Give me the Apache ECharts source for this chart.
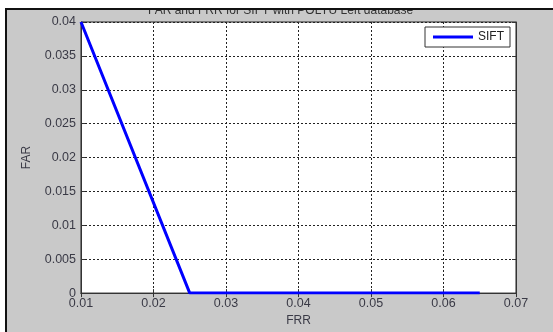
<!DOCTYPE html>
<html>
<head>
<meta charset="utf-8">
<script src="https://cdn.jsdelivr.net/npm/echarts@6/dist/echarts.min.js"></script>
<style>html,body{margin:0;padding:0;background:#fff}#c{width:553px;height:332px}</style>
</head>
<body>
<div id="c"></div>
<script>
const frr = [0.01, 0.025, 0.065];
const far = [0.04, 0, 0];
const seriesName = 'SIFT';
const titleText = 'FAR and FRR for SIFT with POLYU Left database';
const xTicks = [0.01, 0.02, 0.03, 0.04, 0.05, 0.06, 0.07];
const yTicks = [0, 0.005, 0.01, 0.015, 0.02, 0.025, 0.03, 0.035, 0.04];

const chart = echarts.init(document.getElementById('c'), null, {renderer: 'canvas'});
const labelColor = '#3a3a46';
const font = 'Liberation Sans, Arial, sans-serif';
const fmt = v => (Math.abs(v) < 1e-12 ? '0' : String(+v.toFixed(3)));
chart.setOption({
  animation: false,
  backgroundColor: '#c9c9c9',
  title: {
    text: titleText, left: 143, top: 0,
    textStyle: {fontSize: 12, fontWeight: 'normal', color: '#333', fontFamily: font}
  },
  legend: {
    right: 43, top: 27, padding: [4, 6, 4, 8],
    backgroundColor: '#fff', borderColor: '#333', borderWidth: 1,
    itemWidth: 40, itemHeight: 3, icon: 'rect',
    textStyle: {fontSize: 12, color: '#222', fontFamily: font},
    data: [seriesName]
  },
  grid: {left: 81, right: 37, top: 22, bottom: 35, show: true, backgroundColor: '#fff', borderColor: '#222', borderWidth: 1},
  xAxis: [{
    type: 'value', min: 0.01, max: 0.07, interval: 0.01,
    name: 'FRR', nameLocation: 'middle', nameGap: 21,
    nameTextStyle: {fontSize: 12, color: labelColor, fontFamily: font},
    axisLine: {show: true, lineStyle: {color: '#333'}},
    axisTick: {inside: true, length: 4, lineStyle: {color: '#333'}},
    axisLabel: {fontSize: 12.5, color: labelColor, fontFamily: font, margin: 4, formatter: fmt},
    splitLine: {show: true, lineStyle: {color: '#222', type: [2, 2], width: 1}}
  }, {
    type: 'value', position: 'top', min: 0.01, max: 0.07, interval: 0.01,
    axisLine: {show: true, lineStyle: {color: '#333'}},
    axisTick: {inside: true, length: 4, lineStyle: {color: '#333'}},
    axisLabel: {show: false}, splitLine: {show: false}
  }],
  yAxis: [{
    type: 'value', min: 0, max: 0.04, interval: 0.005,
    name: 'FAR', nameLocation: 'middle', nameGap: 48, nameRotate: 90,
    nameTextStyle: {fontSize: 12, color: labelColor, fontFamily: font},
    axisLine: {show: true, lineStyle: {color: '#333'}},
    axisTick: {inside: true, length: 4, lineStyle: {color: '#333'}},
    axisLabel: {fontSize: 12.5, color: labelColor, fontFamily: font, margin: 5, formatter: fmt},
    splitLine: {show: true, lineStyle: {color: '#222', type: [2, 2], width: 1}}
  }, {
    type: 'value', position: 'right', min: 0, max: 0.04, interval: 0.005,
    axisLine: {show: true, lineStyle: {color: '#333'}},
    axisTick: {inside: true, length: 4, lineStyle: {color: '#333'}},
    axisLabel: {show: false}, splitLine: {show: false}
  }],
  series: [{
    name: seriesName, type: 'line', showSymbol: false, symbol: 'none',
    data: frr.map((x, i) => [x, far[i]]),
    lineStyle: {color: '#0000ff', width: 3},
    itemStyle: {color: '#0000ff'}
  }],
  graphic: [
    {type: 'rect', z: 100, shape: {x: 0, y: 0, width: 553, height: 8}, style: {fill: '#fff'}},
    {type: 'rect', z: 100, shape: {x: 0, y: 0, width: 5, height: 332}, style: {fill: '#fff'}},
    {type: 'line', z: 101, shape: {x1: 5, y1: 9, x2: 553, y2: 9}, style: {stroke: '#111', lineWidth: 2}},
    {type: 'line', z: 101, shape: {x1: 6, y1: 8, x2: 6, y2: 332}, style: {stroke: '#111', lineWidth: 2}}
  ]
});
</script>
</body>
</html>
